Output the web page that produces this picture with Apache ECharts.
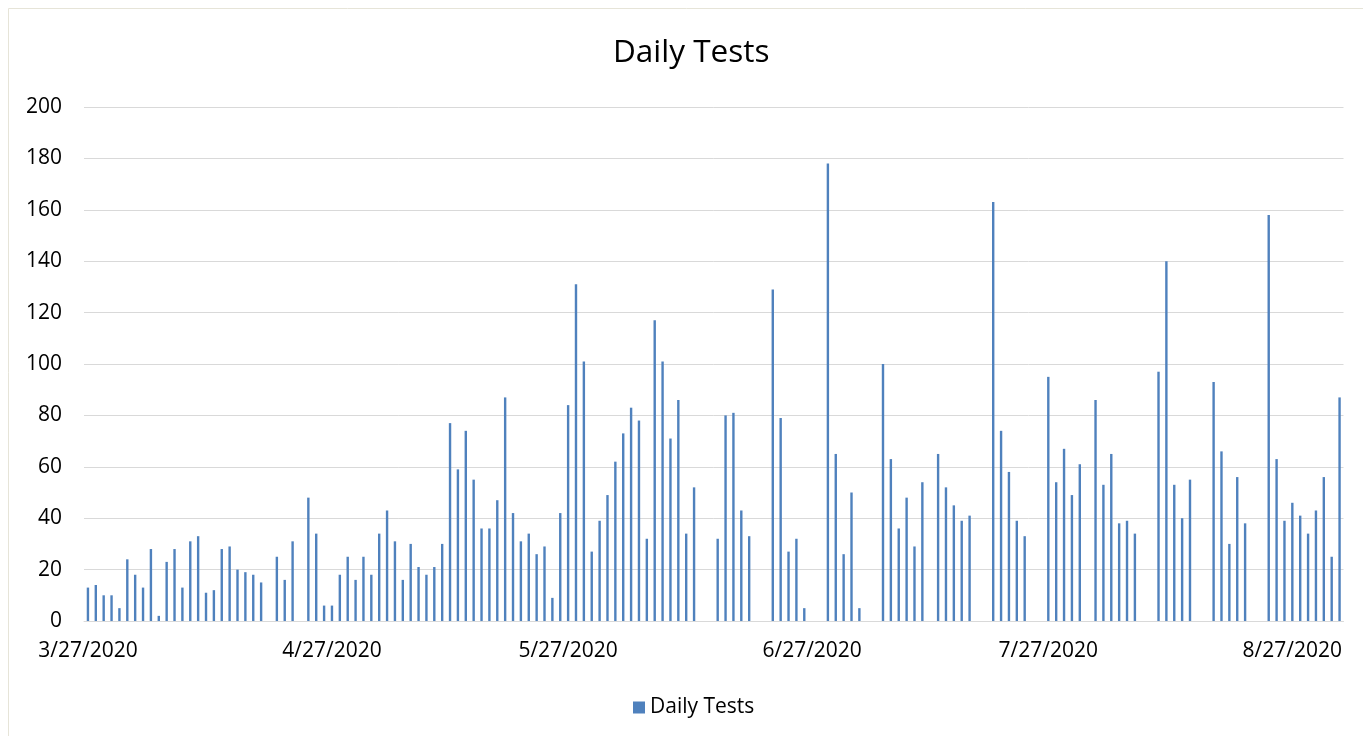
<!DOCTYPE html>
<html>
<head>
<meta charset="utf-8">
<script src="https://cdn.jsdelivr.net/npm/echarts@6/dist/echarts.min.js"></script>
<style>
  html, body { margin: 0; padding: 0; background: #ffffff; }
  #chart { width: 1363px; height: 736px; }
</style>
</head>
<body>
<div id="chart"></div>
<script>
// ---- Data ----
const startDate = "2020-03-27";
const dayCount = 160;
const seriesName = "Daily Tests";
const dailyTests = [
  13, 14, 10, 10, 5, 24, 18, 13, 28, 2,
  23, 28, 13, 31, 33, 11, 12, 28, 29, 20,
  19, 18, 15, null, 25, 16, 31, null, 48, 34,
  6, 6, 18, 25, 16, 25, 18, 34, 43, 31,
  16, 30, 21, 18, 21, 30, 77, 59, 74, 55,
  36, 36, 47, 87, 42, 31, 34, 26, 29, 9,
  42, 84, 131, 101, 27, 39, 49, 62, 73, 83,
  78, 32, 117, 101, 71, 86, 34, 52, null, null,
  32, 80, 81, 43, 33, null, null, 129, 79, 27,
  32, 5, null, null, 178, 65, 26, 50, 5, null,
  null, 100, 63, 36, 48, 29, 54, null, 65, 52,
  45, 39, 41, null, null, 163, 74, 58, 39, 33,
  null, null, 95, 54, 67, 49, 61, null, 86, 53,
  65, 38, 39, 34, null, null, 97, 140, 53, 40,
  55, null, null, 93, 66, 30, 56, 38, null, null,
  158, 63, 39, 46, 41, 34, 43, 56, 25, 87
];
const xTickLabels = ["3/27/2020", "4/27/2020", "5/27/2020", "6/27/2020", "7/27/2020", "8/27/2020"];
const yTicks = [0, 20, 40, 60, 80, 100, 120, 140, 160, 180, 200];

// Category list: one entry per calendar day
const categories = [];
{
  const d0 = new Date(startDate + "T00:00:00Z");
  for (let i = 0; i < dayCount; i++) {
    const d = new Date(d0.getTime() + i * 86400000);
    categories.push((d.getUTCMonth() + 1) + "/" + d.getUTCDate() + "/" + d.getUTCFullYear());
  }
}

const FONT = "'Open Sans', 'Noto Sans', sans-serif";
const chart = echarts.init(document.getElementById('chart'), null, { renderer: 'canvas' });

chart.setOption({
  backgroundColor: '#ffffff',
  animation: false,
  graphic: [{
    type: 'rect',
    shape: { x: 8.5, y: 8.5, width: 1400, height: 800 },
    style: { fill: 'none', stroke: '#E6E4D8', lineWidth: 1 },
    silent: true
  }],
  title: {
    text: 'Daily Tests',
    left: 613,
    top: 37,
    padding: 0,
    textStyle: { fontFamily: FONT, fontSize: 31.5, fontWeight: 'normal', color: '#000000' }
  },
  legend: {
    data: [seriesName],
    left: 633,
    top: 697,
    padding: 0,
    icon: 'rect',
    itemWidth: 12,
    itemHeight: 12,
    itemGap: 8,
    selectedMode: false,
    textStyle: { fontFamily: FONT, fontSize: 21, color: '#000000' }
  },
  grid: { left: 84, right: 19.5, top: 107, bottom: 115, containLabel: false },
  xAxis: {
    type: 'category',
    data: categories,
    boundaryGap: true,
    axisLine: { show: true, lineStyle: { color: '#D9D9D9', width: 1 } },
    axisTick: { show: false },
    splitLine: { show: false },
    axisLabel: {
      interval: function (idx, value) { return xTickLabels.indexOf(value) >= 0; },
      fontFamily: FONT, fontSize: 21, color: '#000000', margin: 20
    }
  },
  yAxis: {
    type: 'value',
    min: yTicks[0],
    max: yTicks[yTicks.length - 1],
    interval: yTicks[1] - yTicks[0],
    axisLine: { show: false },
    axisTick: { show: false },
    splitLine: { show: true, lineStyle: { color: '#D9D9D9', width: 1 } },
    axisLabel: { fontFamily: FONT, fontSize: 21, color: '#000000', margin: 22 }
  },
  series: [{
    name: seriesName,
    type: 'bar',
    data: dailyTests,
    barWidth: 2.4,
    itemStyle: { color: '#4F81BD' }
  }]
});
</script>
</body>
</html>
